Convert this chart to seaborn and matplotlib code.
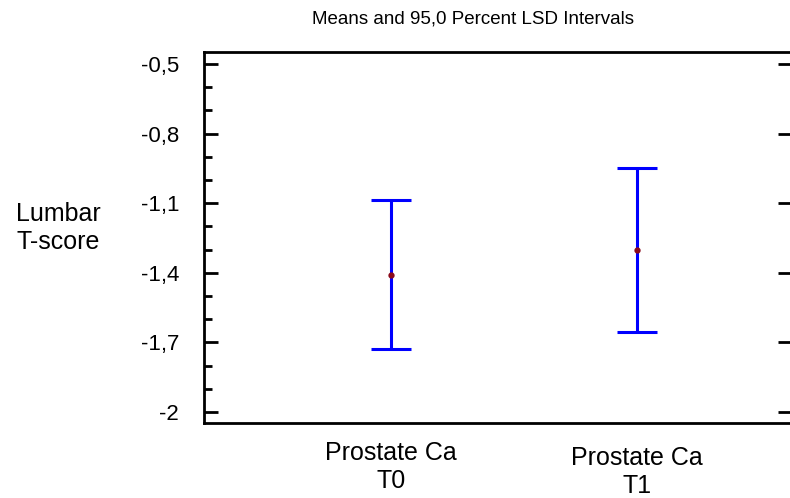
import seaborn as sns
import matplotlib
matplotlib.use('Agg')
import matplotlib.pyplot as plt
from matplotlib.ticker import MultipleLocator, FuncFormatter
import numpy as np
import pandas as pd

# values
groups = ['Prostate Ca\nT0', 'Prostate Ca\nT1']
means = [-1.407, -1.300]
half_lsd = [0.323, 0.353]
yticks = [-2.0, -1.7, -1.4, -1.1, -0.8, -0.5]

sns.set_style('ticks')
plt.rcParams['font.family'] = ['Liberation Sans', 'DejaVu Sans']
for k in ['text.color', 'axes.labelcolor', 'xtick.color', 'ytick.color']:
    plt.rcParams[k] = 'black'

df = pd.DataFrame({'group': groups, 'mean': means})

fig = plt.figure(figsize=(7.9, 4.98), dpi=100)
ax = fig.add_axes([204/790, 75/498, 588/790, 371/498])

sns.pointplot(data=df, x='group', y='mean', errorbar=None, linestyle='none',
              color='#8b0a1a', markers='o', markersize=2.5, ax=ax, zorder=5)
ax.errorbar(np.arange(len(groups)), means, yerr=half_lsd, fmt='none',
            ecolor='#0000ff', elinewidth=2.2, capsize=14.4, capthick=2.2, zorder=3)

ax.set_xlim(-0.760, 1.630)
ax.set_ylim(-2.047, -0.448)
ax.set_yticks(yticks)
ax.yaxis.set_minor_locator(MultipleLocator(0.1))
ax.yaxis.set_major_formatter(FuncFormatter(lambda v, p: ('%g' % round(v, 1)).replace('.', ',')))

ax.tick_params(axis='y', which='major', direction='in', length=10, width=2,
               labelsize=16, right=True, pad=18)
ax.tick_params(axis='y', which='minor', direction='in', length=6, width=2)
ax.tick_params(axis='x', length=0, labelsize=18, pad=13)
ax.xaxis.get_major_ticks()[1].set_pad(16.5)
for lab in ax.get_xticklabels():
    lab.set_linespacing(1.2)

for s in ax.spines.values():
    s.set_linewidth(2)
    s.set_color('black')

ax.set_xlabel('')
ax.set_ylabel('Lumbar\nT-score', rotation=0, fontsize=18, ha='center', va='center',
              linespacing=1.2)
ax.yaxis.set_label_coords((58 - 204) / 588, (423 - 228) / 371)

fig.text(473/790, 1 - 18.5/498, 'Means and 95,0 Percent LSD Intervals',
         ha='center', va='center', fontsize=13.5)

fig.savefig('out.png', dpi=100)
